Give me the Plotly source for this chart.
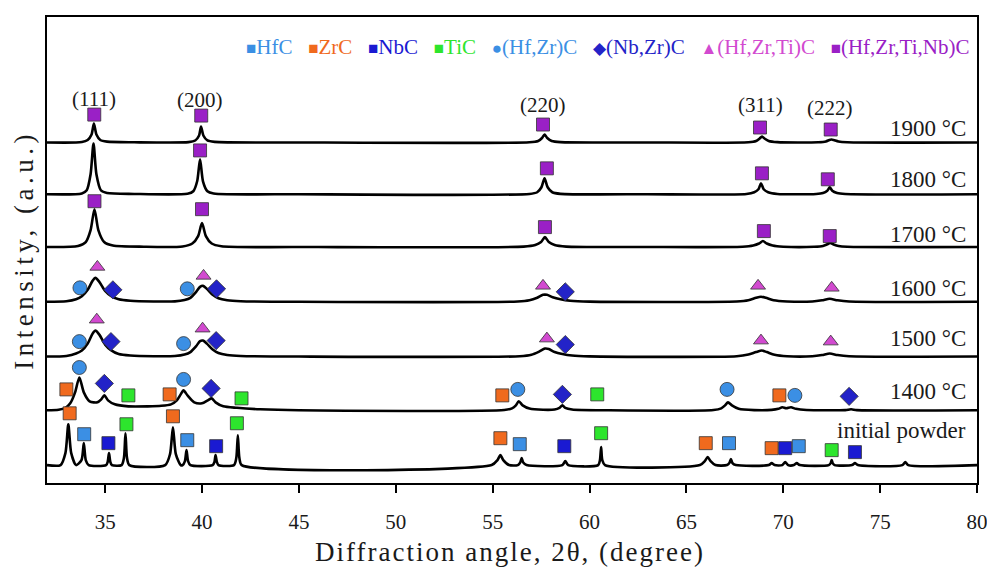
import plotly.graph_objects as go

# ---------------- data (2θ in degrees, intensity in a.u.) ----------------
ANGLE_TICKS = [35, 40, 45, 50, 55, 60, 65, 70, 75, 80]

# vertical offsets of each pattern (a.u.)
OFFSETS = {"initial": 18, "1400": 73, "1500": 127, "1600": 182,
           "1700": 237, "1800": 290, "1900": 342}

LABELS = {"initial": "initial powder", "1400": "1400 °C", "1500": "1500 °C",
          "1600": "1600 °C", "1700": "1700 °C", "1800": "1800 °C", "1900": "1900 °C"}
LABEL_Y = {"initial": 53, "1400": 92, "1500": 145, "1600": 195,
           "1700": 250, "1800": 305, "1900": 356}

x_1900 = [32.0, 33.8, 34.1, 34.3, 34.42, 34.55, 34.75, 35.1, 36.5,
          39.3, 39.65, 39.85, 39.95, 40.07, 40.28, 40.65, 45.0,
          56.9, 57.35, 57.55, 57.68, 57.82, 58.05, 58.5, 63.0,
          68.2, 68.6, 68.78, 68.9, 69.03, 69.25, 69.7,
          71.8, 72.2, 72.38, 72.48, 72.6, 72.85, 73.3, 80.0]
y_1900 = [0, 0.4, 2.5, 8, 19, 8, 2.5, 0.8, 0.2,
          0.3, 2, 7, 16, 7, 2, 0.6, 0,
          0.2, 1.5, 4.5, 8, 4.5, 1.5, 0.3, 0,
          0.2, 1.5, 4, 6, 4, 1.5, 0.3,
          0.2, 1, 2.5, 3, 2.5, 1, 0.2, 0]

x_1800 = [32.0, 33.8, 34.05, 34.25, 34.4, 34.55, 34.78, 35.1, 36.5,
          39.25, 39.55, 39.75, 39.9, 40.05, 40.28, 40.6, 45.0,
          56.9, 57.3, 57.52, 57.68, 57.84, 58.08, 58.5, 63.0,
          68.1, 68.5, 68.72, 68.85, 68.99, 69.22, 69.7,
          71.7, 72.05, 72.27, 72.4, 72.53, 72.78, 73.2, 80.0]
y_1800 = [0, 0.8, 4, 20, 51, 20, 4, 1.2, 0.3,
          0.5, 3, 13, 35, 13, 3, 0.8, 0,
          0.3, 2, 7, 16, 7, 2, 0.4, 0,
          0.3, 2, 5, 11, 5, 2, 0.3,
          0.3, 1.2, 3.5, 7, 3.5, 1.2, 0.2, 0]

x_1700 = [32.0, 33.6, 34.0, 34.25, 34.45, 34.65, 34.95, 35.4, 37.0,
          39.0, 39.5, 39.8, 40.0, 40.2, 40.5, 41.0, 46.0,
          56.6, 57.2, 57.5, 57.7, 57.9, 58.2, 58.8, 63.0,
          67.9, 68.45, 68.75, 68.95, 69.15, 69.45, 70.0,
          71.6, 72.05, 72.25, 72.42, 72.6, 72.85, 73.3, 80.0]
y_1700 = [0, 1, 5, 17, 38, 17, 5, 1.5, 0.3,
          0.6, 3.5, 11, 24, 11, 3.5, 0.8, 0,
          0.4, 2, 5, 10, 5, 2, 0.4, 0,
          0.3, 1.5, 3.5, 6, 3.5, 1.5, 0.3,
          0.2, 1, 2.5, 4, 2.5, 1, 0.2, 0]

x_1600 = [32.0, 33.0, 33.5, 33.8, 34.1, 34.35, 34.5, 34.7, 35.0, 35.3, 35.7, 36.3, 37.5,
          38.6, 39.1, 39.4, 39.7, 39.9, 40.05, 40.25, 40.55, 40.85, 41.3, 42.0, 45.0,
          56.3, 56.9, 57.3, 57.6, 57.8, 58.1, 58.5, 59.0, 60.0,
          67.6, 68.2, 68.6, 68.85, 69.1, 69.5, 70.2,
          71.5, 72.0, 72.4, 72.8, 73.4, 80.0]
y_1600 = [0, 0.5, 2.5, 5.5, 12, 21, 24, 20, 11, 6, 2.5, 1, 0.3,
          0.4, 1.8, 4, 10, 15, 16, 13, 7, 3.5, 1.5, 0.5, 0,
          0.3, 1.5, 4, 7, 7, 4.5, 2.5, 1, 0.2,
          0.3, 1.5, 4, 5, 4, 1.5, 0.3,
          0.3, 1.5, 3, 1.5, 0.3, 0]

x_1500 = [32.0, 33.0, 33.5, 33.8, 34.1, 34.35, 34.5, 34.7, 35.0, 35.3, 35.7, 36.3, 37.5,
          38.6, 39.1, 39.4, 39.7, 39.9, 40.05, 40.25, 40.55, 40.85, 41.3, 42.0, 45.0,
          56.4, 57.0, 57.4, 57.7, 57.9, 58.2, 58.6, 59.1, 60.0,
          67.6, 68.2, 68.6, 68.9, 69.15, 69.55, 70.2,
          71.5, 72.0, 72.4, 72.8, 73.4, 80.0]
y_1500 = [0, 0.6, 3, 6, 13, 23, 26, 22, 12, 6.5, 2.5, 1, 0.3,
          0.5, 2, 4.5, 10.5, 15.5, 16, 13, 7, 3.5, 1.5, 0.5, 0,
          0.3, 1.8, 5, 8, 7.5, 4.5, 2.5, 1, 0.2,
          0.3, 2, 4.5, 6, 4.5, 1.8, 0.3,
          0.3, 1.5, 3, 1.5, 0.3, 0]

x_1400 = [32.0, 32.6, 32.95, 33.2, 33.45, 33.67, 33.9, 34.2, 34.6, 34.8, 34.96, 35.15, 35.5,
          36.2, 37.2, 37.9, 38.4, 38.7, 38.9, 39.05, 39.25, 39.6, 40.0, 40.3, 40.5, 40.7,
          41.1, 41.8, 43.0, 45.0,
          55.6, 56.0, 56.2, 56.35, 56.55, 56.9, 57.6, 58.2, 58.45, 58.6, 58.75, 59.1, 61.0,
          66.4, 66.8, 67.0, 67.15, 67.35, 67.7, 68.5,
          69.4, 69.75, 69.95, 70.15, 70.4, 70.65, 71.2, 73.2, 73.5, 73.8, 80.0]
y_1400 = [0, 0.6, 2.5, 7, 18, 33, 18, 9, 8, 11, 15, 10, 6,
          4, 4, 4.5, 6, 10, 16, 20, 15, 8, 7, 10, 12, 8,
          4, 2.5, 1, 0,
          0.3, 2, 5, 9, 5, 1.8, 0.5, 0.8, 2.5, 5, 2.5, 0.8, 0,
          0.3, 2, 5, 8, 5, 1.5, 0.2,
          0.4, 1.5, 3, 2, 3, 1.5, 0.3, 0.2, 1, 0.2, 0]

x_init = [32.0, 32.7, 32.95, 33.1, 33.25, 33.5, 33.78, 33.9, 34.0, 34.15,
          35.05, 35.13, 35.2, 35.27, 35.35, 35.85, 35.97, 36.05, 36.13, 36.25,
          38.1, 38.35, 38.5, 38.65, 38.9, 39.0, 39.12, 39.2, 39.28, 39.4,
          40.55, 40.64, 40.7, 40.77, 40.85, 41.65, 41.77, 41.85, 41.93, 42.05,
          54.95, 55.25, 55.4, 55.55, 55.85, 56.3, 56.42, 56.5, 56.58, 56.75,
          58.6, 58.75, 58.9, 60.45, 60.54, 60.6, 60.66, 60.8,
          65.7, 65.95, 66.1, 66.25, 66.5, 67.1, 67.22, 67.3, 67.38, 67.55,
          69.25, 69.4, 69.55, 69.95, 70.1, 70.25, 70.55, 70.7, 70.85,
          72.35, 72.45, 72.5, 72.55, 72.65, 73.55, 73.7, 73.85, 76.15, 76.3, 76.45, 80.0]
y_init = [0, 0, 12, 41, 12, 0, 5, 22, 5, 0,
          0, 3, 12, 3, 0, 0, 7, 32, 7, 0,
          0, 11, 38, 11, 0, 0, 4, 15, 4, 0,
          0, 3, 10, 3, 0, 0, 7, 30, 7, 0,
          0, 5, 10, 5, 0, 0, 2.5, 7, 2.5, 0,
          0, 4, 0, 0, 5, 18, 5, 0,
          0, 4, 8, 4, 0, 0, 2, 6, 2, 0,
          0, 2, 0, 0, 3, 0, 0, 2, 0,
          0, 2, 5, 2, 0, 0, 2, 0, 0, 3, 0, 0]

PATTERNS = {"initial": (x_init, y_init), "1400": (x_1400, y_1400),
            "1500": (x_1500, y_1500), "1600": (x_1600, y_1600),
            "1700": (x_1700, y_1700), "1800": (x_1800, y_1800),
            "1900": (x_1900, y_1900)}

# phase markers: (2θ, intensity position)
HfC_x = [33.92, 39.24, 56.4, 67.2, 70.8]
HfC_y = [49, 43, 39, 40, 37]
ZrC_x = [33.17, 38.5, 55.4, 66.0, 69.4, 33.0, 38.33, 55.5, 69.8]
ZrC_y = [70, 67, 45, 40, 35, 94, 89, 88, 88]
NbC_x = [35.17, 40.73, 58.7, 70.1, 73.7]
NbC_y = [40, 37, 37, 35, 31]
TiC_x = [36.1, 41.8, 60.6, 72.5, 36.2, 42.04, 60.4]
TiC_y = [59, 60, 50, 33, 88, 85, 89]
HfZr_x = [33.67, 39.05, 56.3, 67.1, 70.6, 33.67, 39.05, 33.7, 39.24]
HfZr_y = [116, 104, 94, 94, 88, 142, 140, 196, 195]
NbZr_x = [34.96, 40.47, 58.6, 73.4, 35.3, 40.73, 58.75, 35.4, 40.75, 58.75]
NbZr_y = [100, 95, 89, 87, 142, 143, 139, 194, 195, 192]
HfZrTi_x = [34.57, 40.03, 57.8, 68.85, 72.45, 34.6, 40.08, 57.6, 68.7, 72.5]
HfZrTi_y = [164, 155, 145, 143, 142, 217, 208, 198, 198, 196]
HfZrTiNb_x = [34.44, 39.96, 57.6, 68.8, 72.45, 39.9, 57.8, 68.9, 72.3,
              34.45, 40.0, 57.7, 69.0, 72.4]
HfZrTiNb_y = [370, 369, 360, 357, 355, 334, 316, 311, 305,
              283, 275, 257, 253, 248]

HKL_LABELS = ["(111)", "(200)", "(220)", "(311)", "(222)"]
HKL_X = [34.4, 39.9, 57.6, 68.8, 72.4]
HKL_Y = [386, 385, 380, 380, 377]

PHASES = [
    ("HfC", "square", "#3b8fe4", HfC_x, HfC_y, 13),
    ("ZrC", "square", "#f06a1e", ZrC_x, ZrC_y, 13),
    ("NbC", "square", "#1a1ad2", NbC_x, NbC_y, 13),
    ("TiC", "square", "#2de52d", TiC_x, TiC_y, 13),
    ("(Hf,Zr)C", "circle", "#3b8fe4", HfZr_x, HfZr_y, 14),
    ("(Nb,Zr)C", "diamond", "#2323c8", NbZr_x, NbZr_y, 14),
    ("(Hf,Zr,Ti)C", "triangle-up", "#d24ad0", HfZrTi_x, HfZrTi_y, 13),
    ("(Hf,Zr,Ti,Nb)C", "square", "#9a20c6", HfZrTiNb_x, HfZrTiNb_y, 13),
]
LEGEND_GLYPH = {"square": "■", "circle": "●", "diamond": "◆", "triangle-up": "▲"}

FONT = "Liberation Serif, Times New Roman, serif"
TXT = "#1a1a1a"

fig = go.Figure()

for key, (xs, ys) in PATTERNS.items():
    off = OFFSETS[key]
    fig.add_trace(go.Scatter(
        x=xs, y=[v + off for v in ys], mode="lines",
        line=dict(color="black", width=2.6, shape="spline", smoothing=0.7),
        name=LABELS[key], showlegend=False, hoverinfo="skip"))

for name, sym, col, xs, ys, size in PHASES:
    fig.add_trace(go.Scatter(
        x=xs, y=ys, mode="markers", name=name, showlegend=False,
        marker=dict(symbol=sym, size=size, color=col,
                    line=dict(color="#333333", width=0.8))))

annotations = []
for key in OFFSETS:
    annotations.append(dict(x=79.55, y=LABEL_Y[key], xref="x", yref="y",
                            text=LABELS[key], showarrow=False, xanchor="right",
                            yanchor="middle", font=dict(family=FONT, size=23, color=TXT)))
for t, hx, hy in zip(HKL_LABELS, HKL_X, HKL_Y):
    annotations.append(dict(x=hx, y=hy, xref="x", yref="y", text=t, showarrow=False,
                            font=dict(family=FONT, size=21, color=TXT)))

legend_parts = []
for name, sym, col, xs, ys, size in PHASES:
    legend_parts.append(
        f'<span style="color:{col};font-size:17px">{LEGEND_GLYPH[sym]}</span>'
        f'<span style="color:{col}">{name}</span>')
annotations.append(dict(x=0.9936, y=0.936, xref="paper", yref="paper",
                        text="   ".join(legend_parts), showarrow=False,
                        xanchor="right", yanchor="middle",
                        font=dict(family=FONT, size=21)))

annotations.append(dict(x=-0.025, y=0.5, xref="paper", yref="paper",
                        text='<span style="letter-spacing:4.5px">Intensity, (a.u.)</span>',
                        textangle=-90, showarrow=False,
                        xanchor="center", yanchor="middle",
                        font=dict(family=FONT, size=27, color=TXT)))
annotations.append(dict(x=0.498, y=-0.149, xref="paper", yref="paper",
                        text='<span style="letter-spacing:2px">Diffraction angle, 2θ, (degree)</span>',
                        showarrow=False, xanchor="center", yanchor="middle",
                        font=dict(family=FONT, size=27, color=TXT)))

# the page body adds an 8 px margin, so the figure is sized to fit the window
fig.update_layout(
    width=987, height=560,
    margin=dict(l=39, r=14, t=7, b=85),
    paper_bgcolor="white", plot_bgcolor="white",
    showlegend=False,
    annotations=annotations,
    xaxis=dict(range=[32, 80], tickvals=ANGLE_TICKS, ticks="outside", ticklen=8,
               tickwidth=2, tickcolor="black", showline=True, linewidth=2.2,
               linecolor="black", mirror=True, showgrid=False, zeroline=False,
               ticklabelstandoff=11,
               tickfont=dict(family=FONT, size=21, color=TXT)),
    yaxis=dict(range=[0, 468], showticklabels=False, ticks="", showline=True,
               linewidth=2.2, linecolor="black", mirror=True, showgrid=False,
               zeroline=False),
)

fig.write_html("out.html")
